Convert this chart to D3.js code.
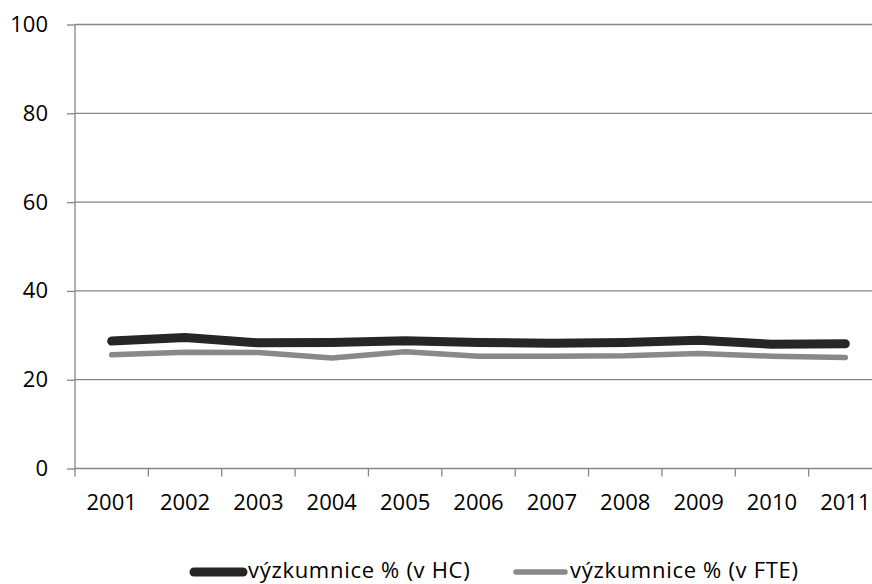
<!DOCTYPE html>
<meta charset="utf-8">
<style>
  body { margin: 0; background: #fff; }
  svg { display: block; font-family: "Open Sans", sans-serif; }
</style>
<div id="chart"></div>
<script src="https://d3js.org/d3.v7.min.js"></script>
<script>

var years = ["2001", "2002", "2003", "2004", "2005", "2006", "2007", "2008", "2009", "2010", "2011"];
var hc  = [28.7, 29.5, 28.3, 28.4, 28.8, 28.4, 28.2, 28.4, 28.9, 28.0, 28.1];
var fte = [25.6, 26.2, 26.1, 24.9, 26.3, 25.3, 25.3, 25.4, 25.9, 25.3, 25.0];
var yTicks = [0, 20, 40, 60, 80, 100];
var seriesNames = ["výzkumnice % (v HC)", "výzkumnice % (v FTE)"];

var width = 872, height = 584;

var svg = d3.select("#chart")
  .append("svg")
    .attr("width", width)
    .attr("height", height);

var x = d3.scaleBand()
    .domain(years)
    .range([75, 882]);

var y = d3.scaleLinear()
    .domain([0, 100])
    .range([468.5, 24.5]);

var axisColor = "#868686";

// gridlines
svg.append("g")
  .selectAll("line")
  .data(yTicks.slice(1))
  .enter().append("line")
    .attr("x1", 75)
    .attr("x2", 882)
    .attr("y1", function(d) { return y(d); })
    .attr("y2", function(d) { return y(d); })
    .attr("stroke", axisColor)
    .attr("stroke-width", 1.3);

// y axis
var yAxis = svg.append("g")
    .attr("transform", "translate(75,0)")
    .call(d3.axisLeft(y).tickValues(yTicks).tickSize(8).tickPadding(19).tickSizeOuter(0));
yAxis.select(".domain").remove();
yAxis.selectAll(".tick line").attr("stroke", axisColor).attr("stroke-width", 1.3);
yAxis.selectAll("text")
    .attr("fill", "#000")
    .attr("font-size", 22)
    .attr("font-family", "Open Sans, sans-serif");

svg.append("line")
    .attr("x1", 75).attr("x2", 75)
    .attr("y1", y(100)).attr("y2", 476.5)
    .attr("stroke", axisColor)
    .attr("stroke-width", 1.3);

// x axis
svg.append("line")
    .attr("x1", 75).attr("x2", 882)
    .attr("y1", y(0)).attr("y2", y(0))
    .attr("stroke", axisColor)
    .attr("stroke-width", 1.3);

svg.append("g")
  .selectAll("line")
  .data(years.slice(1))
  .enter().append("line")
    .attr("x1", function(d) { return x(d); })
    .attr("x2", function(d) { return x(d); })
    .attr("y1", y(0))
    .attr("y2", y(0) + 8)
    .attr("stroke", axisColor)
    .attr("stroke-width", 1.3);

svg.append("g")
  .selectAll("text")
  .data(years)
  .enter().append("text")
    .attr("x", function(d) { return x(d) + x.bandwidth() / 2; })
    .attr("y", 502.5)
    .attr("dy", "0.35em")
    .attr("text-anchor", "middle")
    .attr("font-size", 22)
    .attr("fill", "#000")
    .text(function(d) { return d; });

// lines
var series = [
  { name: seriesNames[0], values: hc,  color: "#262626", width: 9 },
  { name: seriesNames[1], values: fte, color: "#898989", width: 5.5 }
];

var line = d3.line()
    .x(function(d, i) { return x(years[i]) + x.bandwidth() / 2; })
    .y(function(d) { return y(d); });

svg.append("g")
  .selectAll("path")
  .data(series)
  .enter().append("path")
    .attr("fill", "none")
    .attr("stroke", function(d) { return d.color; })
    .attr("stroke-width", function(d) { return d.width; })
    .attr("stroke-linecap", "round")
    .attr("stroke-linejoin", "round")
    .attr("d", function(d) { return line(d.values); });

// legend
var legendX = [190, 512];
var legend = svg.append("g")
  .selectAll("g")
  .data(series)
  .enter().append("g")
    .attr("transform", function(d, i) { return "translate(" + legendX[i] + ",572)"; });

legend.append("line")
    .attr("x1", 4)
    .attr("x2", 53)
    .attr("stroke", function(d) { return d.color; })
    .attr("stroke-width", function(d) { return d.width; })
    .attr("stroke-linecap", "round");

legend.append("text")
    .attr("x", 58)
    .attr("y", 6)
    .attr("font-size", 22)
    .attr("letter-spacing", 0.7)
    .attr("fill", "#000")
    .text(function(d) { return d.name; });

</script>
